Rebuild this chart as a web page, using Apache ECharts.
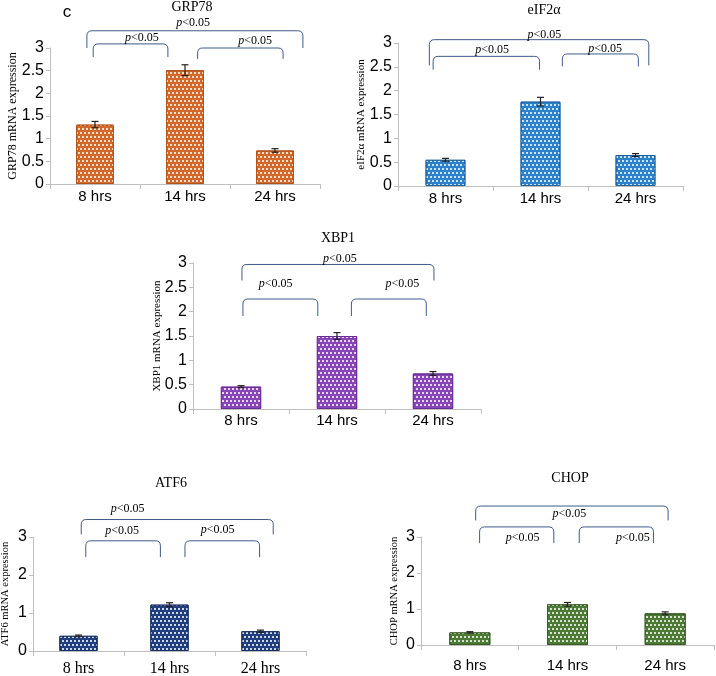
<!DOCTYPE html>
<html>
<head>
<meta charset="utf-8">
<script src="https://cdn.jsdelivr.net/npm/echarts@6/dist/echarts.min.js"></script>
<style>
  html, body { margin: 0; padding: 0; background: #fff; }
  #chart { width: 716px; height: 676px; }
</style>
</head>
<body>
<div id="chart"></div>
<script>
// ---- data ----
const categories = ['8 hrs', '14 hrs', '24 hrs'];
const grp78 = [1.31, 2.51, 0.74];
const grp78Err = [0.07, 0.12, 0.04];
const eif2a = [0.55, 1.77, 0.65];
const eif2aErr = [0.03, 0.09, 0.03];
const xbp1 = [0.46, 1.50, 0.73];
const xbp1Err = [0.02, 0.07, 0.04];
const atf6 = [0.40, 1.22, 0.52];
const atf6Err = [0.02, 0.05, 0.03];
const chop = [0.35, 1.13, 0.88];
const chopErr = [0.02, 0.05, 0.04];
const pLabel = 'p<0.05';

// ---- layout / style ----
const SANS = 'Liberation Sans';
const SERIF = 'Liberation Serif';
const panels = [
  { title: 'GRP78', vals: grp78, errs: grp78Err, fill: '#d2692b', border: '#b0531c',
    grid: { left: 50, top: 48, width: 270, height: 136 }, interval: 0.5,
    titlePos: [192, 7], nameGap: 31, nameSize: 12, catFont: SANS, catSize: 15, catMargin: 5,
    brackets: [[-0.09, 2.31, 3.38, 3.0, 1.09, 3.55], [-0.02, 0.81, 3.09, 2.80, 0.52, 3.22], [1.14, 2.09, 3.0, 2.76, 1.78, 3.15]] },
  { title: 'eIF2α', vals: eif2a, errs: eif2aErr, fill: '#2b82c9', border: '#1d62a3',
    grid: { left: 398, top: 43, width: 285, height: 143 }, interval: 0.5,
    titlePos: [544, 10], nameGap: 31, nameSize: 11, catFont: SANS, catSize: 15, catMargin: 5,
    brackets: [[-0.17, 2.14, 3.07, 2.53, 1.04, 3.17], [-0.13, 0.99, 2.72, 2.44, 0.49, 2.86], [1.23, 2.03, 2.77, 2.51, 1.68, 2.88]] },
  { title: 'XBP1', vals: xbp1, errs: xbp1Err, fill: '#8745b8', border: '#6a2e96',
    grid: { left: 193, top: 263, width: 288, height: 146 }, interval: 0.5,
    titlePos: [338, 238], nameGap: 30, nameSize: 11, catFont: SANS, catSize: 15, catMargin: 4,
    brackets: [[0.01, 2.01, 2.97, 2.64, 1.03, 3.09], [0.02, 0.80, 2.26, 1.91, 0.36, 2.58], [1.15, 1.93, 2.26, 1.91, 1.68, 2.58]] },
  { title: 'ATF6', vals: atf6, errs: atf6Err, fill: '#213f7e', border: '#172e60',
    grid: { left: 33, top: 537, width: 273, height: 114 }, interval: 1,
    titlePos: [171, 483], nameGap: 22, nameSize: 10.5, catFont: SERIF, catSize: 16, catMargin: 10,
    brackets: [[0.03, 2.14, 3.46, 3.07, 0.54, 3.73], [0.08, 0.90, 2.90, 2.47, 0.48, 3.15], [1.17, 1.99, 2.90, 2.47, 1.53, 3.18]] },
  { title: 'CHOP', vals: chop, errs: chopErr, fill: '#4d7a35', border: '#385c25',
    grid: { left: 421, top: 537, width: 293, height: 108 }, interval: 1,
    titlePos: [570, 478], nameGap: 21, nameSize: 10.5, catFont: SANS, catSize: 15, catMargin: 13,
    brackets: [[0.06, 2.03, 3.86, 3.46, 1.02, 3.63], [0.10, 0.86, 3.28, 2.83, 0.54, 2.99], [1.12, 1.88, 3.28, 2.83, 1.67, 2.99]] }
];
const bracketColor = '#3e5a8a';
const axisColor = '#bfbfbf';

const grids = [], xAxes = [], yAxes = [], series = [], graphics = [];

graphics.push({ type: 'text', x: 67, y: 12, style: { text: 'c', font: '17px ' + SANS, fill: '#000', textAlign: 'center', textVerticalAlign: 'middle' } });

panels.forEach((p, k) => {
  grids.push(Object.assign({ containLabel: false, outerBoundsMode: 'none' }, p.grid));
  xAxes.push({
    type: 'category', gridIndex: k, data: categories,
    axisLine: { lineStyle: { color: axisColor } },
    axisTick: { show: true, length: 5, lineStyle: { color: axisColor } },
    axisLabel: { color: '#000', fontFamily: p.catFont, fontSize: p.catSize, margin: p.catMargin }
  });
  yAxes.push({
    type: 'value', gridIndex: k, min: 0, max: 3, interval: p.interval,
    name: p.title + ' mRNA expression', nameLocation: 'middle', nameGap: p.nameGap, nameRotate: 90,
    nameMoveOverlap: false,
    nameTextStyle: { fontFamily: SERIF, fontSize: p.nameSize, color: '#000' },
    axisLine: { show: true, lineStyle: { color: axisColor } },
    axisTick: { show: true, length: 4, lineStyle: { color: axisColor } },
    splitLine: { show: false },
    axisLabel: { color: '#000', fontFamily: SANS, fontSize: 16, margin: 6 }
  });
  graphics.push({ type: 'text', x: p.titlePos[0], y: p.titlePos[1],
    style: { text: p.title, font: '14px ' + SERIF, fill: '#000', textAlign: 'center', textVerticalAlign: 'middle' } });

  series.push({
    type: 'bar', xAxisIndex: k, yAxisIndex: k, data: p.vals, barWidth: '42%',
    itemStyle: {
      color: p.fill, borderColor: p.border, borderWidth: 1,
      decal: { symbol: 'rect', symbolSize: 1, color: 'rgba(255,255,255,0.78)',
               dashArrayX: [[2, 2], [0, 2, 2, 0]], dashArrayY: [1.5, 1.5], rotation: 0 }
    },
    emphasis: { disabled: true }, silent: true
  });
  series.push({
    type: 'custom', xAxisIndex: k, yAxisIndex: k, silent: true, z: 5,
    data: p.vals.map((v, i) => [i, v, p.errs[i]]),
    renderItem: (params, api) => {
      const i = api.value(0), v = api.value(1), e = api.value(2);
      const top = api.coord([i, v + e]);
      const bot = api.coord([i, v - e]);
      const hw = 3.5;
      const st = { stroke: '#222', lineWidth: 1.2 };
      return { type: 'group', children: [
        { type: 'line', shape: { x1: top[0], y1: top[1], x2: bot[0], y2: bot[1] }, style: st },
        { type: 'line', shape: { x1: top[0] - hw, y1: top[1], x2: top[0] + hw, y2: top[1] }, style: st },
        { type: 'line', shape: { x1: bot[0] - hw, y1: bot[1], x2: bot[0] + hw, y2: bot[1] }, style: st }
      ] };
    }
  });
  series.push({
    type: 'custom', xAxisIndex: k, yAxisIndex: k, silent: true, clip: false, z: 6,
    data: p.brackets.map((b, i) => [0, 0]),
    renderItem: (params, api) => {
      const b = p.brackets[params.dataIndex];
      const c0 = api.coord([0, 0])[0];
      const band = api.size([1, 0])[0];
      const X = (u) => c0 + u * band;
      const Y = (v) => api.coord([0, v])[1];
      const x1 = X(b[0]), x2 = X(b[1]), yt = Y(b[2]), yb = Y(b[3]);
      const r = Math.min(5, (yb - yt) * 0.5);
      const st = { stroke: bracketColor, lineWidth: 1, fill: null };
      return { type: 'group', children: [
        { type: 'line', shape: { x1: x1, y1: yb, x2: x1, y2: yt + r }, style: st },
        { type: 'bezierCurve', shape: { x1: x1, y1: yt + r, cpx1: x1, cpy1: yt, x2: x1 + r, y2: yt }, style: st },
        { type: 'line', shape: { x1: x1 + r, y1: yt, x2: x2 - r, y2: yt }, style: st },
        { type: 'bezierCurve', shape: { x1: x2 - r, y1: yt, cpx1: x2, cpy1: yt, x2: x2, y2: yt + r }, style: st },
        { type: 'line', shape: { x1: x2, y1: yt + r, x2: x2, y2: yb }, style: st },
        { type: 'text', x: X(b[4]), y: Y(b[5]),
          style: { text: '{i|p}<0.05', fill: '#000', font: '12px ' + SERIF, align: 'center', verticalAlign: 'middle',
                   rich: { i: { fontStyle: 'italic', fontFamily: SERIF, fontSize: 12 } } } }
      ] };
    }
  });
});

const chart = echarts.init(document.getElementById('chart'), null, { renderer: 'canvas' });
chart.setOption({
  animation: false,
  backgroundColor: '#fff',
  grid: grids, xAxis: xAxes, yAxis: yAxes, series: series,
  graphic: graphics
});
</script>
</body>
</html>
